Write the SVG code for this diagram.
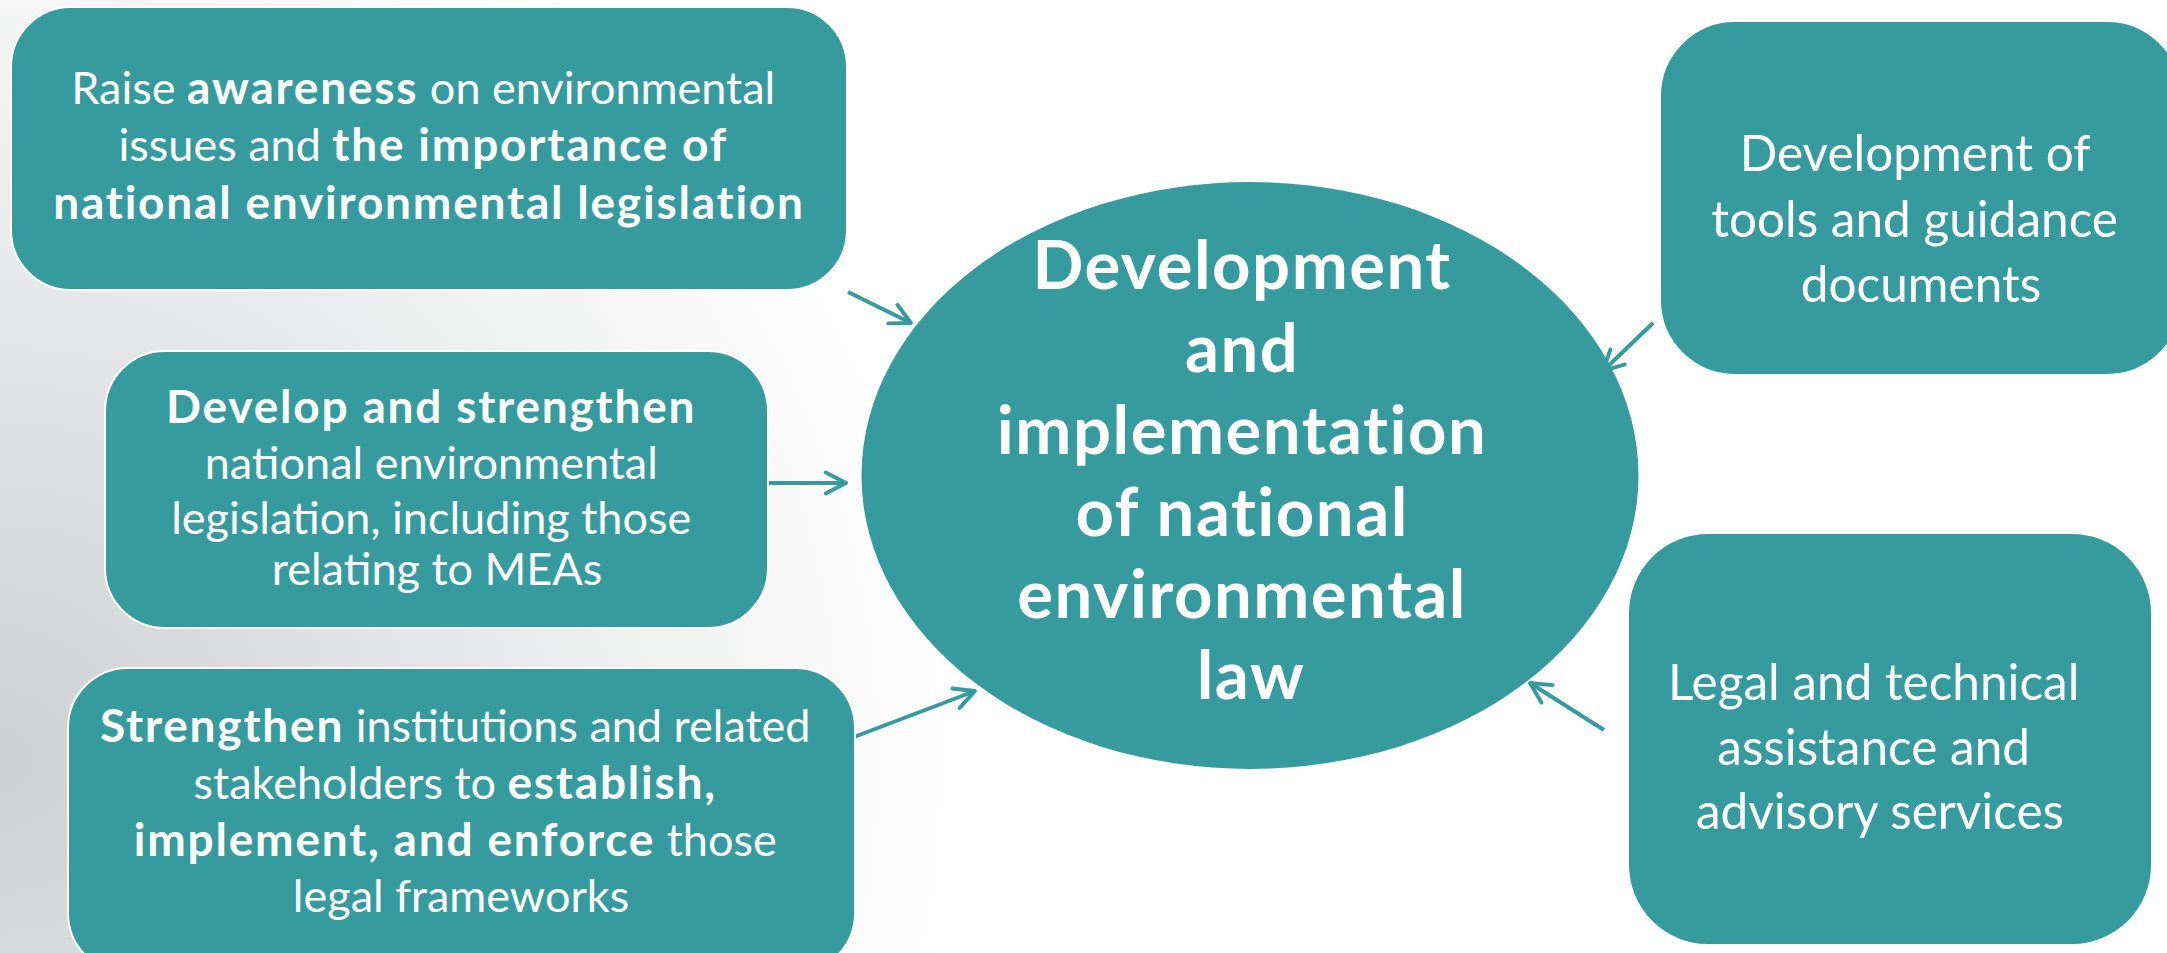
<svg xmlns="http://www.w3.org/2000/svg" width="2167" height="953" viewBox="0 0 2167 953">
  <defs>
    <radialGradient id="bg" cx="0" cy="760" r="950" gradientUnits="userSpaceOnUse">
      <stop offset="0" stop-color="#cfd0d1"/>
      <stop offset="0.45" stop-color="#e4e5e6"/>
      <stop offset="1" stop-color="#ffffff"/>
    </radialGradient>
    <marker id="arrow" viewBox="0 0 10 10" refX="9" refY="5" markerWidth="6.5" markerHeight="6.5" orient="auto" markerUnits="strokeWidth">
      <path d="M1.2,1 L9,5 L1.2,9" fill="none" stroke="#359b9e" stroke-width="1.5" stroke-linecap="round" stroke-linejoin="round"/>
    </marker>
    <style>
      .box { fill: #359b9e; stroke: #ffffff; stroke-width: 2; }
      .oval { fill: #359b9e; }
      .conn { stroke: #359b9e; stroke-width: 4; fill: none; marker-end: url(#arrow); }
      .t { fill: #ffffff; font-family: Lato, "Liberation Sans", sans-serif; text-anchor: middle; }
      .s1 { font-size: 45px; }
      .s1 .b { font-size: 46px; font-weight: bold; letter-spacing: 1.8px; }
      .s2 { font-size: 49.5px; }
      .s3 { font-size: 67px; font-weight: bold; letter-spacing: 1.5px; }
    </style>
  </defs>
  <rect x="0" y="0" width="2167" height="953" fill="url(#bg)"/>

  <g id="connectors">
    <line class="conn" x1="848" y1="292" x2="911" y2="323"/>
    <line class="conn" x1="768" y1="483" x2="846" y2="483"/>
    <line class="conn" x1="854" y1="737" x2="975" y2="691"/>
    <line class="conn" x1="1653" y1="323" x2="1603" y2="371"/>
    <line class="conn" x1="1604" y1="730" x2="1530" y2="683"/>
  </g>

  <g id="node-center">
    <ellipse class="oval" cx="1250" cy="475.5" rx="388.5" ry="293.5"/>
    <text class="t s3">
      <tspan x="1251" y="289">Development</tspan>
      <tspan x="1251" y="372">and</tspan>
      <tspan x="1251" y="454">implementation</tspan>
      <tspan x="1251" y="536">of national</tspan>
      <tspan x="1251" y="618">environmental</tspan>
      <tspan x="1251" y="699">law</tspan>
    </text>
  </g>

  <g id="node-awareness">
    <rect class="box" x="11" y="7" width="836" height="283" rx="60" ry="60"/>
    <text class="t s1">
      <tspan x="429" y="104">Raise <tspan class="b">awareness</tspan> on environmental</tspan>
      <tspan x="429" y="161">issues and <tspan class="b">the importance of</tspan></tspan>
      <tspan x="429" y="219" class="b">national environmental legislation</tspan>
    </text>
  </g>

  <g id="node-develop">
    <rect class="box" x="105" y="351" width="663" height="277" rx="60" ry="60"/>
    <text class="t s1">
      <tspan x="437" y="423" class="b">Develop and strengthen</tspan>
      <tspan x="437" y="479">national environmental</tspan>
      <tspan x="437" y="534">legislation, including those</tspan>
      <tspan x="437" y="585">relating to MEAs</tspan>
    </text>
  </g>

  <g id="node-strengthen">
    <rect class="box" x="68" y="668" width="787" height="305" rx="60" ry="60"/>
    <text class="t s1">
      <tspan x="461" y="742"><tspan class="b">Strengthen</tspan> institutions and related</tspan>
      <tspan x="461" y="799">stakeholders to <tspan class="b">establish,</tspan></tspan>
      <tspan x="461" y="856"><tspan class="b">implement, and enforce</tspan> those</tspan>
      <tspan x="461" y="912">legal frameworks</tspan>
    </text>
  </g>

  <g id="node-tools">
    <rect class="box" x="1660" y="21" width="522" height="354" rx="75" ry="75"/>
    <text class="t s2">
      <tspan x="1921" y="171">Development of</tspan>
      <tspan x="1921" y="237">tools and guidance</tspan>
      <tspan x="1921" y="302">documents</tspan>
    </text>
  </g>

  <g id="node-assistance">
    <rect class="box" x="1628" y="533" width="524" height="412" rx="80" ry="80"/>
    <text class="t s2">
      <tspan x="1880" y="700">Legal and technical</tspan>
      <tspan x="1880" y="765">assistance and</tspan>
      <tspan x="1880" y="829">advisory services</tspan>
    </text>
  </g>
</svg>
